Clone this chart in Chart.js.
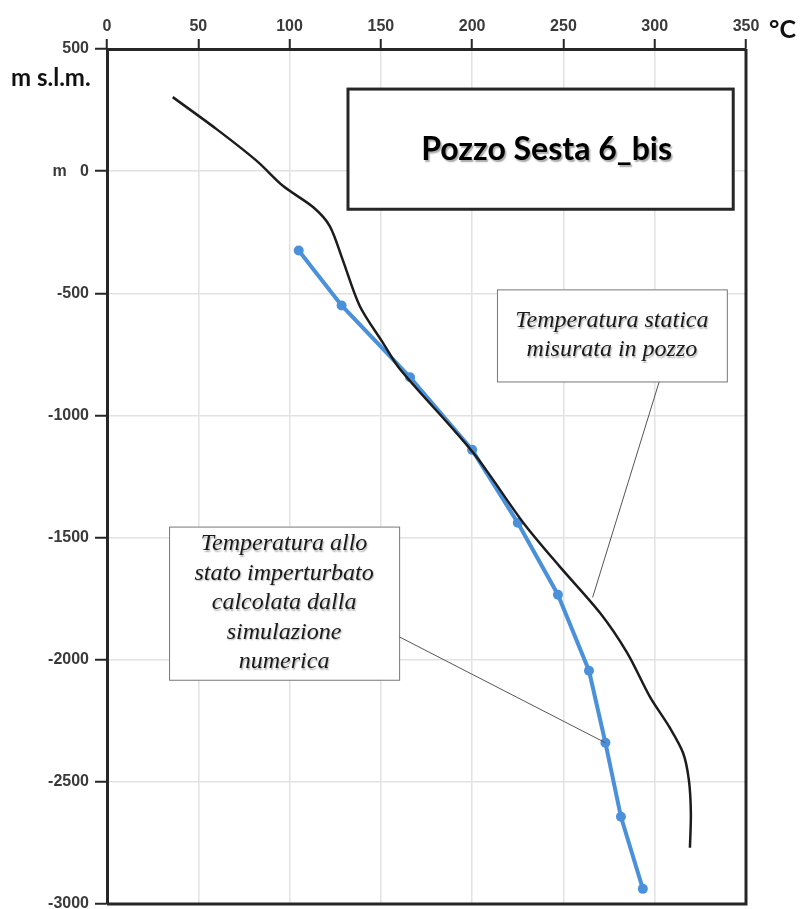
<!DOCTYPE html>
<html>
<head>
<meta charset="utf-8">
<script src="https://cdn.jsdelivr.net/npm/chart.js@4.4.0/dist/chart.umd.min.js"></script>
<style>
  html, body { margin: 0; padding: 0; background: #fff; }
  #wrap { width: 802px; height: 909px; }
</style>
</head>
<body>
<div id="wrap"><canvas id="myChart" width="802" height="909"></canvas></div>
<script>
// static temperature measured in the well (black curve)
var measTemp  = [36, 60, 82, 96.5, 113, 122, 129, 138.5, 151, 160.5, 200.5, 228, 248, 270, 285, 297.4, 308, 315.5, 318.7, 319.8, 319.3];
var measDepth = [303, 172, 42, -61, -148, -225, -361, -553, -701, -811, -1152, -1439, -1619, -1808, -1973, -2152, -2275, -2381, -2492, -2627, -2770];

// undisturbed temperature from the numerical simulation (blue)
var simTemp  = [105, 128.5, 166, 200, 225, 247, 264, 273, 281.5, 293.5];
var simDepth = [-325, -550, -844, -1141, -1439, -1734, -2045, -2340, -2643, -2938];

// axis ticks
var tempTicks  = [0, 50, 100, 150, 200, 250, 300, 350];
var depthTicks = [500, 0, -500, -1000, -1500, -2000, -2500, -3000];

var titleText = "Pozzo Sesta 6_bis";
var measNote = ["Temperatura statica", "misurata in pozzo"];
var simNote = ["Temperatura allo", "stato imperturbato", "calcolata dalla", "simulazione", "numerica"];

function toPoints(xs, ys) {
  var out = [];
  for (var i = 0; i < xs.length; i++) out.push({ x: xs[i], y: ys[i] });
  return out;
}

var axisColor = "#262626";
var tickFont = { family: "'Liberation Sans', Arial, sans-serif", size: 16, weight: "bold" };

// boxes, notes, frame
var decor = {
  id: "decor",
  afterDraw: function(chart) {
    var c = chart.ctx, a = chart.chartArea;
    var sx = chart.scales.x, sy = chart.scales.y;
    var px = function(v) { return sx.getPixelForValue(v); };
    var py = function(v) { return sy.getPixelForValue(v); };
    c.save();

    // right and bottom frame
    c.strokeStyle = axisColor;
    c.lineWidth = 3;
    c.beginPath();
    c.moveTo(a.right, a.top);
    c.lineTo(a.right, a.bottom);
    c.lineTo(a.left, a.bottom);
    c.stroke();

    // unit labels
    c.fillStyle = "#111";
    c.font = "bold 24px Lato, 'Open Sans', sans-serif";
    c.textAlign = "left";
    c.textBaseline = "middle";
    c.fillText("m s.l.m.", 11, 78);
    c.font = "bold 25px Lato, 'Open Sans', sans-serif";
    c.fillText("°C", 769, 30);

    // leader lines
    c.strokeStyle = "#555";
    c.lineWidth = 1;
    c.beginPath();
    c.moveTo(px(302.5), py(-861));
    c.lineTo(px(266), py(-1745));
    c.moveTo(px(160), py(-1906));
    c.lineTo(px(simTemp[7]), py(simDepth[7]));
    c.stroke();

    // title box
    var x1 = px(132), x2 = px(343), y1 = py(336), y2 = py(-156);
    c.fillStyle = "#fff";
    c.fillRect(x1, y1, x2 - x1, y2 - y1);
    c.strokeStyle = axisColor;
    c.lineWidth = 3;
    c.strokeRect(x1, y1, x2 - x1, y2 - y1);
    c.fillStyle = "#000";
    c.font = "bold 32px Lato, 'Open Sans', sans-serif";
    c.textAlign = "center";
    c.shadowColor = "rgba(0,0,0,0.35)";
    c.shadowOffsetX = 1.5; c.shadowOffsetY = 1.5; c.shadowBlur = 1.5;
    c.fillText(titleText, (x1 + x2) / 2 + 6, (y1 + y2) / 2 + 1);
    c.shadowColor = "transparent";

    // note boxes
    function note(lines, t1, t2, d1, d2, lineH) {
      var bx1 = px(t1), bx2 = px(t2), by1 = py(d1), by2 = py(d2);
      c.fillStyle = "#fff";
      c.fillRect(bx1, by1, bx2 - bx1, by2 - by1);
      c.strokeStyle = "#777";
      c.lineWidth = 1;
      c.strokeRect(bx1 + 0.5, by1 + 0.5, bx2 - bx1, by2 - by1);
      c.fillStyle = "#1a1a1a";
      c.font = "italic 24px 'Liberation Serif', 'Times New Roman', serif";
      c.textAlign = "center";
      c.shadowColor = "rgba(0,0,0,0.3)";
      c.shadowOffsetX = 1; c.shadowOffsetY = 1.5; c.shadowBlur = 1.5;
      var cy = (by1 + by2) / 2 - (lines.length - 1) * lineH / 2;
      for (var i = 0; i < lines.length; i++) {
        c.fillText(lines[i], (bx1 + bx2) / 2, cy + i * lineH);
      }
      c.shadowColor = "transparent";
    }
    note(measNote, 213.6, 339.5, -484, -861, 29);
    note(simNote, 34, 160, -1455, -2082, 29.5);

    c.restore();
  }
};

var ctx = document.getElementById("myChart");
var chart = new Chart(ctx, {
  type: "scatter",
  data: {
    datasets: [
      {
        label: "Temperatura statica misurata in pozzo",
        data: toPoints(measTemp, measDepth),
        showLine: true,
        borderColor: "#1c1c1c",
        borderWidth: 2.5,
        pointRadius: 0,
        tension: 0.3,
        fill: false
      },
      {
        label: "Temperatura allo stato imperturbato",
        data: toPoints(simTemp, simDepth),
        showLine: true,
        borderColor: "#4a90da",
        backgroundColor: "#4a90da",
        borderWidth: 4,
        pointRadius: 5,
        pointBorderWidth: 0,
        tension: 0,
        fill: false
      }
    ]
  },
  options: {
    responsive: false,
    animation: false,
    devicePixelRatio: 1,
    layout: { padding: { left: 0, top: 0, right: 56, bottom: 5 } },
    plugins: {
      legend: { display: false },
      tooltip: { enabled: false }
    },
    scales: {
      x: {
        type: "linear",
        position: "top",
        min: 0,
        max: 350,
        afterBuildTicks: function(scale) {
          scale.ticks = tempTicks.map(function(v) { return { value: v }; });
        },
        afterFit: function(scale) {
          scale.height = 49;
          scale.paddingLeft = 0;
          scale.paddingRight = 0;
        },
        grid: {
          color: "#e2e2e2",
          lineWidth: 1.5,
          tickColor: axisColor,
          tickLength: 10,
          tickWidth: 2
        },
        border: { display: true, color: axisColor, width: 3 },
        ticks: {
          color: "#3a3a3a",
          font: tickFont,
          padding: 3,
          maxRotation: 0
        }
      },
      y: {
        type: "linear",
        min: -3000,
        max: 500,
        afterBuildTicks: function(scale) {
          scale.ticks = depthTicks.map(function(v) { return { value: v }; });
        },
        afterFit: function(scale) {
          scale.width = 107;
          scale.paddingTop = 0;
          scale.paddingBottom = 0;
        },
        grid: {
          color: "#e2e2e2",
          lineWidth: 1.5,
          tickColor: axisColor,
          tickLength: 12,
          tickWidth: 2
        },
        border: { display: true, color: axisColor, width: 3 },
        ticks: {
          color: "#3a3a3a",
          font: tickFont,
          padding: 6,
          callback: function(v) { return v === 0 ? "m   0" : v; }
        }
      }
    }
  },
  plugins: [decor]
});
</script>
</body>
</html>
